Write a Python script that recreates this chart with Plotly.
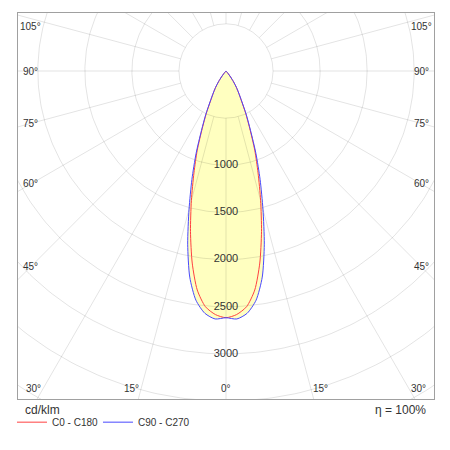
import numpy as np
import plotly.graph_objects as go

# ---- data (cd/klm vs. gamma angle, symmetric planes) ----
gamma = [0, 2.5, 5, 7.5, 10, 12.5, 15, 17.5, 20, 22.5, 25, 27.5, 30, 32.5, 35, 37.5, 40, 42.5, 45]
i_c0_c180 = [2616, 2585, 2509, 2342, 2068, 1744, 1422, 1133, 894, 660, 496, 355, 270, 205, 139, 80, 35, 10, 0]
i_c90_c270 = [2616, 2632, 2579, 2451, 2219, 1881, 1518, 1205, 930, 680, 508, 362, 272, 205, 139, 80, 35, 10, 0]

radial_ticks = [1000, 1500, 2000, 2500, 3000]
grid_radii = [500, 1000, 1500, 2000, 2500, 3000, 3500, 4000, 4500, 5000]
spoke_angles = list(range(0, 360, 15))
bottom_angles = [30, 15, 0, 15, 30]
bottom_sides = [-1, -1, 0, 1, 1]
side_angles = [45, 60, 75, 90, 105]

# ---- geometry (plot area in cd units) ----
X_MIN, X_MAX = -2211, 2211
Y_MIN, Y_MAX = -3478, 615
PX = (X_MAX - X_MIN) / 417.0  # cd per pixel

FONT = "Arial, Liberation Sans, sans-serif"


def outline(vals):
    g = np.radians(np.array(gamma, dtype=float))
    v = np.array(vals, dtype=float)
    th = np.concatenate([-g[::-1], g[1:]])
    r = np.concatenate([v[::-1], v[1:]])
    return r * np.sin(th), -r * np.cos(th)


fig = go.Figure()

xb, yb = outline(i_c90_c270)
xr, yr = outline(i_c0_c180)
fill_col = "rgb(255,255,192)"
fig.add_trace(go.Scatter(x=xb, y=yb, mode="lines", fill="toself", fillcolor=fill_col,
                         line=dict(width=0, color=fill_col, shape="spline", smoothing=0.7),
                         showlegend=False, hoverinfo="skip"))
fig.add_trace(go.Scatter(x=xr, y=yr, mode="lines", fill="toself", fillcolor=fill_col,
                         line=dict(width=0, color=fill_col, shape="spline", smoothing=0.7),
                         showlegend=False, hoverinfo="skip"))

# grid circles
t = np.linspace(0, 2 * np.pi, 361)
cx, cy = [], []
for R in grid_radii:
    cx += list(R * np.cos(t)) + [None]
    cy += list(R * np.sin(t)) + [None]
grid_col = "rgba(0,0,0,0.11)"
fig.add_trace(go.Scatter(x=cx, y=cy, mode="lines", line=dict(color=grid_col, width=1),
                         showlegend=False, hoverinfo="skip"))
# spokes
sx, sy = [], []
for a in spoke_angles:
    ar = np.radians(a)
    sx += [grid_radii[0] * np.sin(ar), grid_radii[-1] * np.sin(ar), None]
    sy += [-grid_radii[0] * np.cos(ar), -grid_radii[-1] * np.cos(ar), None]
fig.add_trace(go.Scatter(x=sx, y=sy, mode="lines", line=dict(color=grid_col, width=1),
                         showlegend=False, hoverinfo="skip"))

# curves
fig.add_trace(go.Scatter(x=xr, y=yr, mode="lines",
                         line=dict(color="#ff4040", width=1, shape="spline", smoothing=0.7),
                         name="C0 - C180", hoverinfo="skip"))
fig.add_trace(go.Scatter(x=xb, y=yb, mode="lines",
                         line=dict(color="#4848ff", width=1, shape="spline", smoothing=0.7),
                         name="C90 - C270", hoverinfo="skip"))
# invisible spacer entry so the last legend label is not clipped
fig.add_trace(go.Scatter(x=[None], y=[None], mode="lines",
                         line=dict(color="rgba(0,0,0,0)", width=1),
                         name=" ", hoverinfo="skip"))

# radial labels
fig.add_trace(go.Scatter(x=[0] * len(radial_ticks), y=[-v for v in radial_ticks], mode="text",
                         text=[str(v) for v in radial_ticks],
                         textfont=dict(family=FONT, size=11, color="#333333"),
                         showlegend=False, hoverinfo="skip"))

annotations = []
# bottom angle labels
yb_lab = Y_MIN + 11 * PX
for a, s in zip(bottom_angles, bottom_sides):
    xx = s * abs(yb_lab) * np.tan(np.radians(a))
    anchor = {-1: "right", 0: "center", 1: "left"}[s]
    annotations.append(dict(x=xx, y=yb_lab, xref="x", yref="y", text=f"{a}°", showarrow=False,
                            xanchor=anchor, yanchor="middle",
                            font=dict(family=FONT, size=10, color="#333333")))
# side angle labels
xs_lab = X_MAX - 13 * PX
for a in side_angles:
    ar = np.radians(a)
    tt = xs_lab / np.sin(ar)
    yy = -tt * np.cos(ar)
    yy = min(max(yy, Y_MIN + 11 * PX), Y_MAX - 13 * PX)
    for s in (-1, 1):
        annotations.append(dict(x=s * xs_lab, y=yy, xref="x", yref="y", text=f"{a}°",
                                showarrow=False, xanchor="center", yanchor="middle",
                                font=dict(family=FONT, size=10, color="#333333")))

annotations.append(dict(x=0.012, y=-0.028, xref="paper", yref="paper", text="cd/klm",
                        showarrow=False, xanchor="left", yanchor="middle",
                        font=dict(family=FONT, size=12, color="#333333")))
annotations.append(dict(x=0.9856, y=-0.028, xref="paper", yref="paper", text="η = 100%",
                        showarrow=False, xanchor="right", yanchor="middle",
                        font=dict(family=FONT, size=12, color="#333333")))

fig.update_layout(
    width=450, height=450,
    margin=dict(l=9, r=24, t=5, b=59),
    paper_bgcolor="white", plot_bgcolor="white",
    xaxis=dict(range=[X_MIN, X_MAX], showgrid=False, zeroline=False, showticklabels=False,
               ticks="", showline=True, mirror=True, linecolor="#a0a0a0", linewidth=1, fixedrange=True),
    yaxis=dict(range=[Y_MIN, Y_MAX], showgrid=False, zeroline=False, showticklabels=False,
               ticks="", showline=True, mirror=True, linecolor="#a0a0a0", linewidth=1, fixedrange=True),
    showlegend=True,
    legend=dict(orientation="h", x=-0.012, y=-0.06, xanchor="left", yanchor="middle",
                font=dict(family=FONT, size=10, color="#333333"), bgcolor="rgba(0,0,0,0)",
                itemwidth=30, tracegroupgap=0, entrywidth=41, entrywidthmode="pixels"),
    annotations=annotations,
)

fig.write_html("out.html")
